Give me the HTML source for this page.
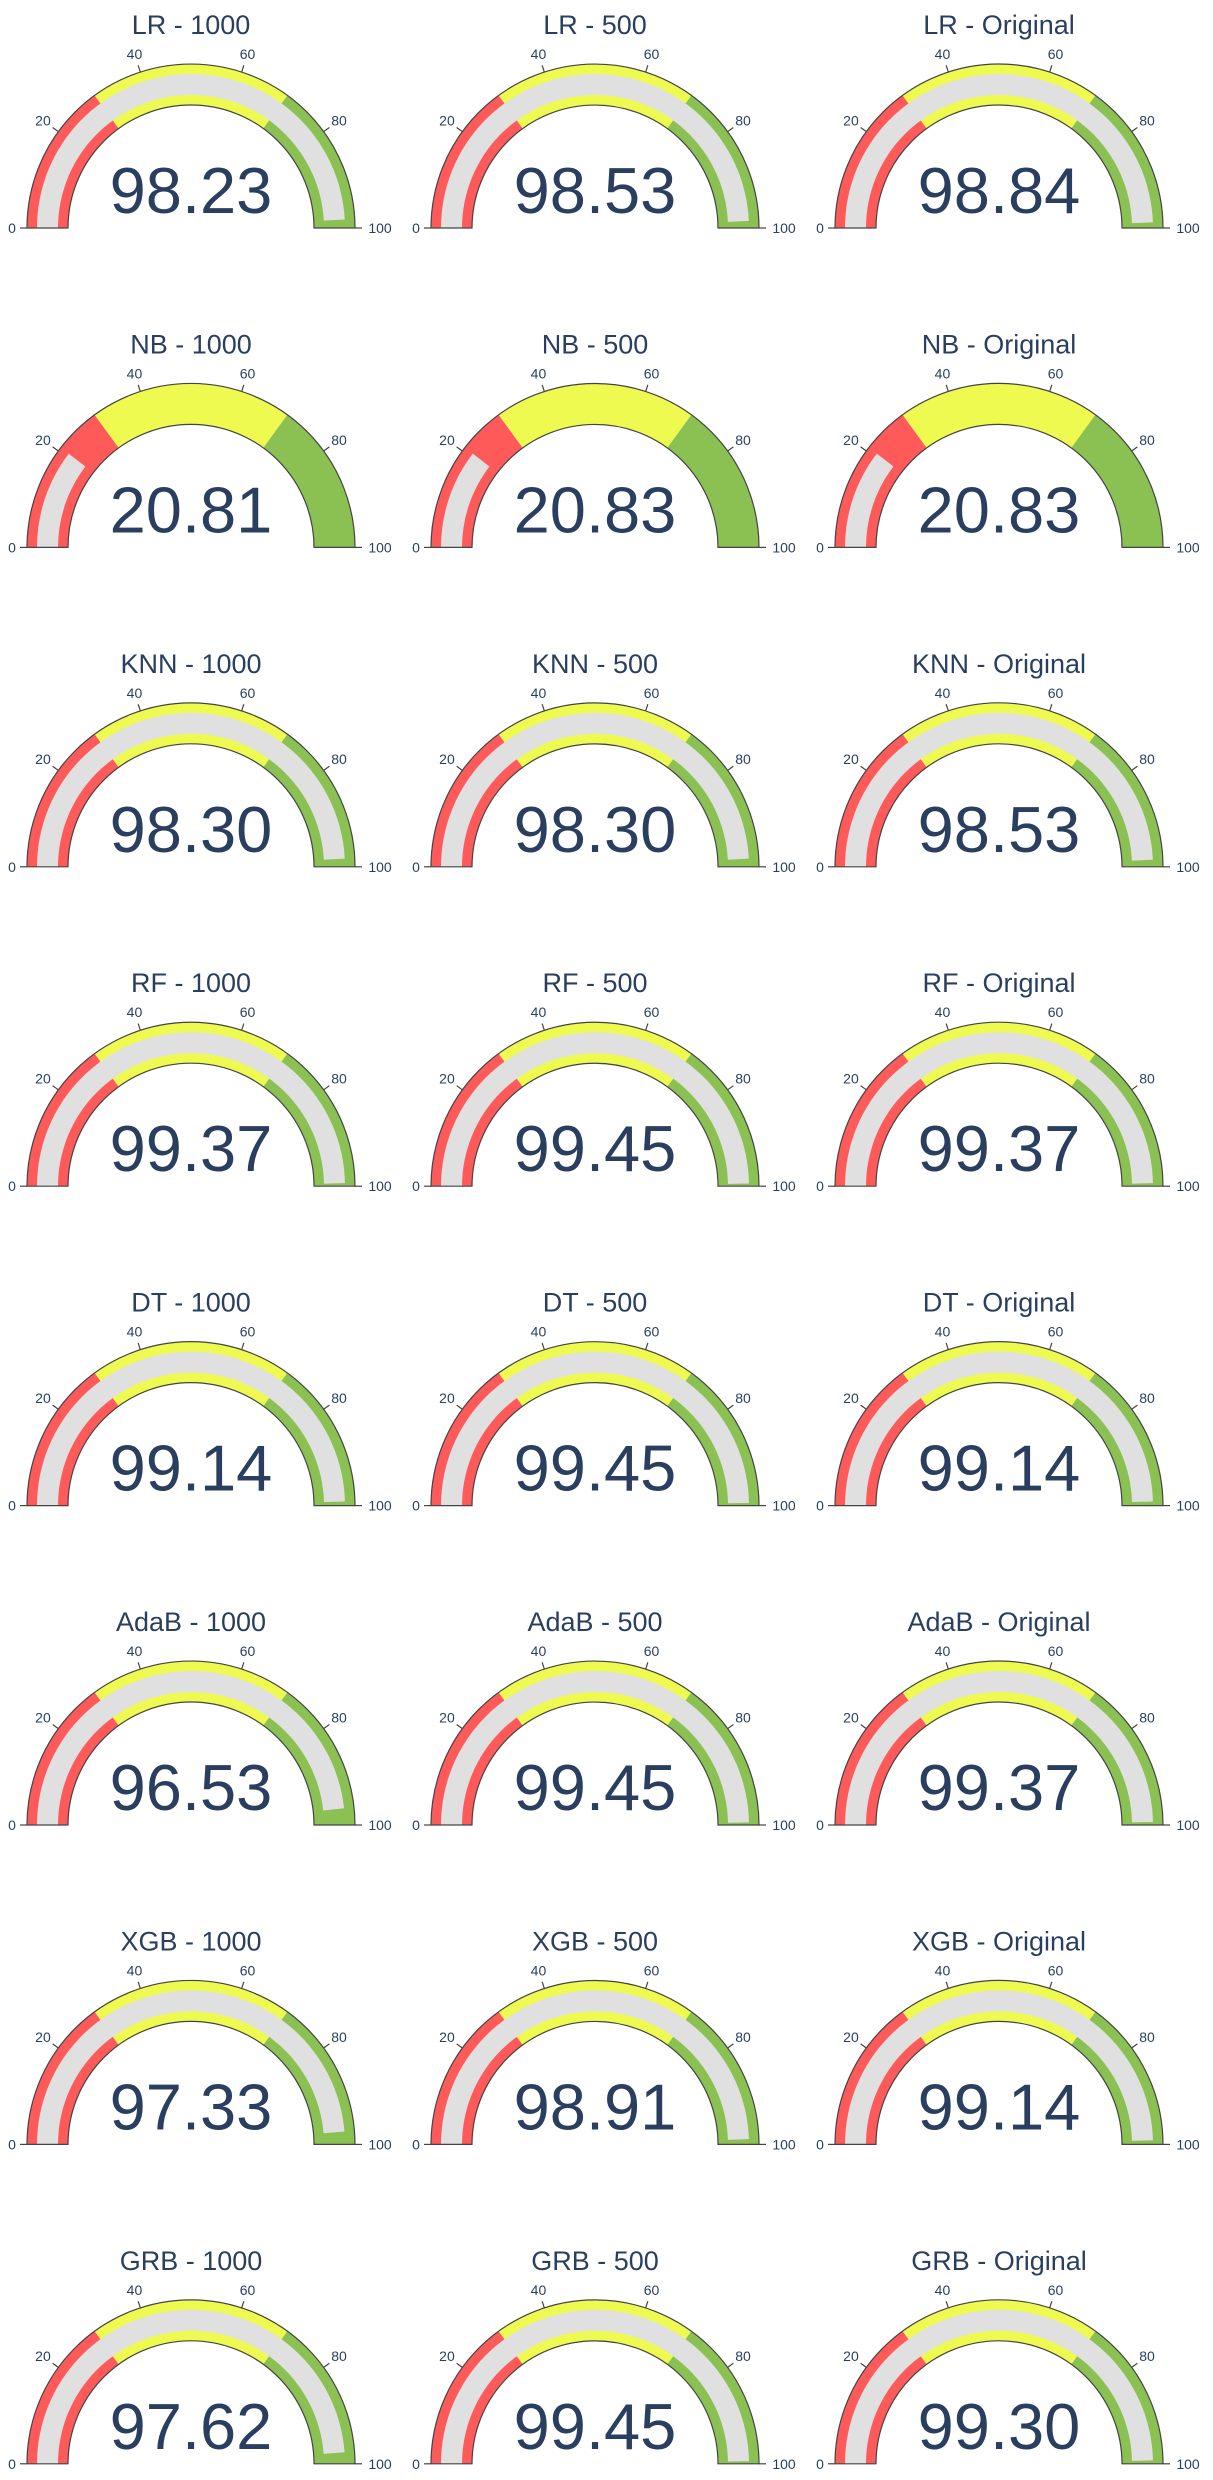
<!DOCTYPE html>
<html><head><meta charset="utf-8"><style>
html,body{margin:0;padding:0;background:#fff;}
svg{display:block;font-family:"Liberation Sans",Arial,sans-serif;}
</style></head><body>
<svg id="chart" width="1213" height="2480" viewBox="0 0 1213 2480" xmlns="http://www.w3.org/2000/svg"></svg>
<script>
const models = ["LR","NB","KNN","RF","DT","AdaB","XGB","GRB"];
const variants = ["1000","500","Original"];
const scores1000 = [98.23,20.81,98.30,99.37,99.14,96.53,97.33,97.62];
const scores500 = [98.53,20.83,98.30,99.45,99.45,99.45,98.91,99.45];
const scoresOriginal = [98.84,20.83,98.53,99.37,99.14,99.37,99.14,99.30];
const ticks = [0,20,40,60,80,100];
const stepStarts = [0,30,70];
const stepEnds = [30,70,100];
const stepColors = ["#ff5a5a","#eefa50","#8bc152"];

const NS="http://www.w3.org/2000/svg";
const svg=document.getElementById('chart');
const colX=[191,595,999], row0=228, rowPitch=319.4;
const R=164, r=123, bIn=133, bOut=154;
function ang(v){return Math.PI*(1-v/100);}
function pt(cx,cy,rad,v){const a=ang(v);return [cx+rad*Math.cos(a), cy-rad*Math.sin(a)];}
function annulus(cx,cy,r1,r2,v0,v1){
  const a=pt(cx,cy,r2,v0),b=pt(cx,cy,r2,v1),c=pt(cx,cy,r1,v1),d=pt(cx,cy,r1,v0);
  const large=(v1-v0)>100?1:0;
  return `M${a[0]},${a[1]} A${r2},${r2} 0 ${large} 1 ${b[0]},${b[1]} L${c[0]},${c[1]} A${r1},${r1} 0 ${large} 0 ${d[0]},${d[1]} Z`;
}
function mk(tag,attrs,parent){const e=document.createElementNS(NS,tag);for(const k in attrs)e.setAttribute(k,attrs[k]);parent.appendChild(e);return e;}
const series=[scores1000,scores500,scoresOriginal];
models.forEach((m,i)=>{
  variants.forEach((vn,j)=>{
    const cx=colX[j], cy=row0+i*rowPitch;
    const val=series[j][i];
    const g=mk('g',{},svg);
    
    
    const t=mk('text',{x:cx,y:cy-204+10,'text-anchor':'middle','font-size':27,fill:'#2a3f5f'},g);
    t.textContent=m+' - '+vn;
    
    
    stepStarts.forEach((s,k)=>{
      const p=mk('path',{d:annulus(cx,cy,r,R,s,stepEnds[k]),fill:stepColors[k]},g);
      
      
    });
    const bar=mk('path',{d:annulus(cx,cy,bIn,bOut,0,val),fill:'#e0e0e0'},g);
    
    
    const o=mk('path',{d:annulus(cx,cy,r,R,0,100),fill:'none',stroke:'#444',"stroke-width":1.2},g);
    
    
    ticks.forEach(tv=>{
      const a=pt(cx,cy,R,tv),b=pt(cx,cy,R+7,tv),c=pt(cx,cy,183,tv);
      const ln=mk('line',{x1:a[0],y1:a[1],x2:b[0],y2:b[1],stroke:'#444','stroke-width':1.2},g);
      
      
      let x=c[0]; if(tv===0)x=cx-179; if(tv===100)x=cx+189;
      const tl=mk('text',{x:x,y:c[1]+5,'text-anchor':'middle','font-size':14,fill:'#2a3f5f'},g);
      tl.textContent=tv;
      
      
    });
    const vt=mk('text',{x:cx,y:cy-15,'text-anchor':'middle','font-size':65,fill:'#2a3f5f'},g);
    vt.textContent=val.toFixed(2);
    
    
  });
});
</script>
</body></html>
